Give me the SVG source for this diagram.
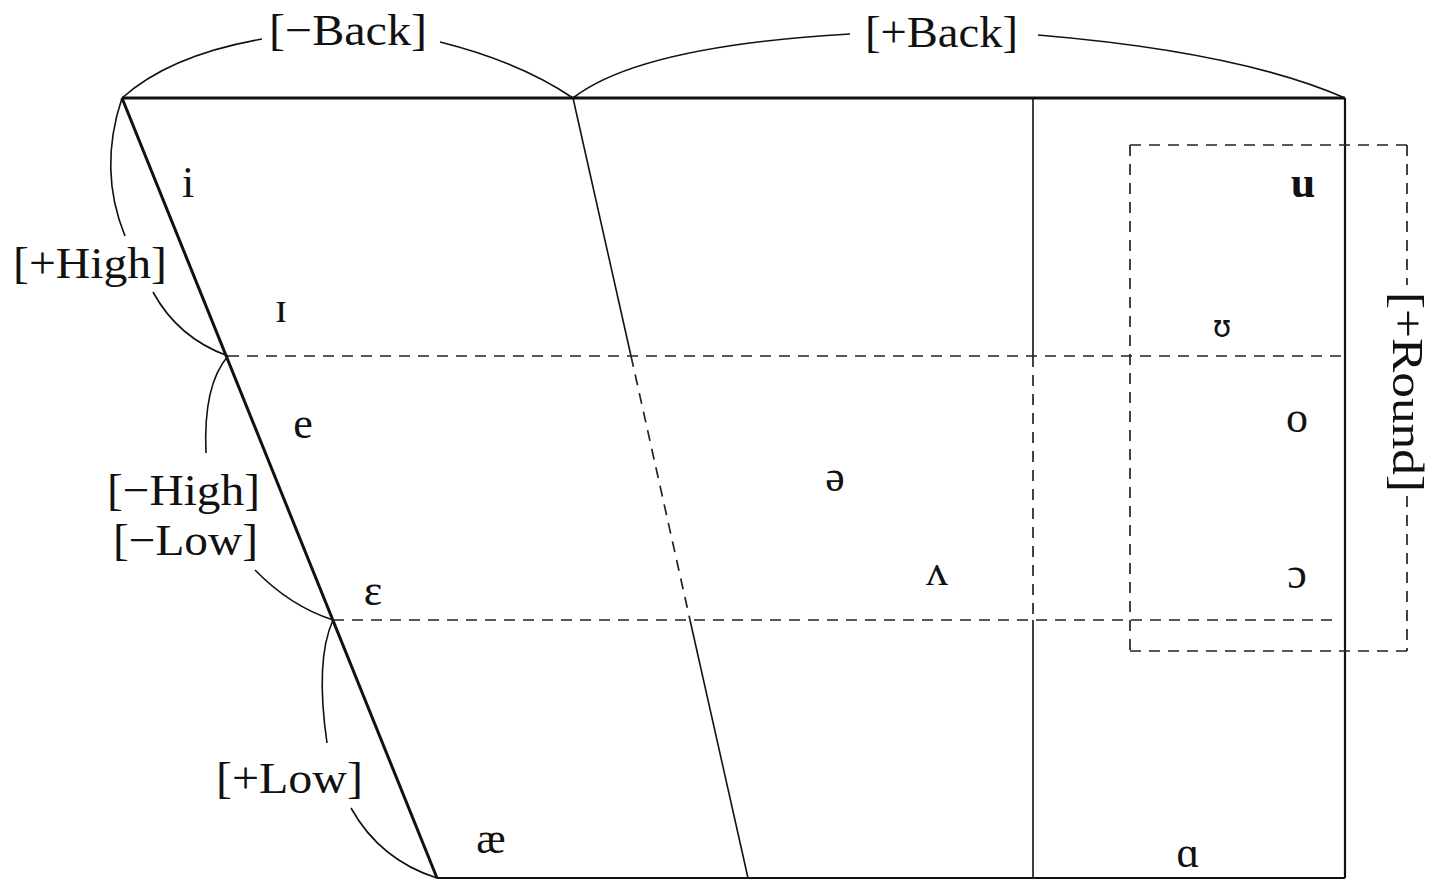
<svg xmlns="http://www.w3.org/2000/svg" width="1433" height="880" viewBox="0 0 1433 880">
<style>
.lbl{font-family:"Liberation Serif","DejaVu Serif",serif;font-size:45px;fill:#111}
.v{font-family:"Liberation Serif","DejaVu Serif",serif;font-size:44px;fill:#111;text-anchor:middle}
.thick{stroke:#111;stroke-width:3;fill:none}
.med{stroke:#111;stroke-width:2.2;fill:none}
.thin{stroke:#111;stroke-width:1.6;fill:none}
.dash{stroke:#222;stroke-width:1.7;fill:none;stroke-dasharray:11 8}
.arc{stroke:#111;stroke-width:1.6;fill:none}
</style>
<rect width="1433" height="880" fill="#fff"/>
<g id="chart">
  <line class="thick" x1="122" y1="98" x2="1345" y2="98"/>
  <line class="thick" x1="122" y1="98" x2="437" y2="878"/>
  <line class="med" x1="437" y1="878" x2="1345" y2="878"/>
  <line class="med" x1="1345" y1="98" x2="1345" y2="878"/>
  <line class="thin" x1="573" y1="98" x2="631" y2="356"/>
  <line class="dash" x1="631" y1="356" x2="690" y2="620"/>
  <line class="thin" x1="690" y1="620" x2="748" y2="878"/>
  <line class="thin" x1="1033" y1="98" x2="1033" y2="356"/>
  <line class="dash" x1="1033" y1="356" x2="1033" y2="620"/>
  <line class="thin" x1="1033" y1="620" x2="1033" y2="878"/>
  <line class="dash" x1="228" y1="356" x2="1345" y2="356"/>
  <line class="dash" x1="333" y1="620" x2="1338" y2="620"/>
</g>
<g id="round-box">
  <line class="dash" x1="1130" y1="145" x2="1407" y2="145"/>
  <line class="dash" x1="1130" y1="145" x2="1130" y2="651"/>
  <line class="dash" x1="1130" y1="651" x2="1407" y2="651"/>
  <line class="dash" x1="1407" y1="145" x2="1407" y2="285"/>
  <line class="dash" x1="1407" y1="496" x2="1407" y2="651"/>
  <text class="lbl" transform="translate(1393,392) rotate(90)" text-anchor="middle" textLength="200" lengthAdjust="spacingAndGlyphs">[+Round]</text>
</g>
<g id="connectors">
  <path class="arc" d="M122,98 Q170,55 262,39"/>
  <path class="arc" d="M440,42 Q520,62 573,98"/>
  <path class="arc" d="M573,98 Q640,46 850,34"/>
  <path class="arc" d="M1038,35 Q1240,52 1345,98"/>
  <path class="arc" d="M122,98 Q98,170 125,236"/>
  <path class="arc" d="M153,292 Q178,338 228,356"/>
  <path class="arc" d="M206,453 Q203,385 228,356"/>
  <path class="arc" d="M255,570 Q290,606 333,620"/>
  <path class="arc" d="M327,743 Q315,660 333,620"/>
  <path class="arc" d="M351,808 Q380,860 437,878"/>
</g>
<g id="feature-labels">
  <text class="lbl" x="269" y="45" textLength="158" lengthAdjust="spacingAndGlyphs">[−Back]</text>
  <text class="lbl" x="865" y="47" textLength="153" lengthAdjust="spacingAndGlyphs">[+Back]</text>
  <text class="lbl" x="13" y="278" textLength="154" lengthAdjust="spacingAndGlyphs">[+High]</text>
  <text class="lbl" x="107" y="505" textLength="153" lengthAdjust="spacingAndGlyphs">[−High]</text>
  <text class="lbl" x="113" y="555" textLength="145" lengthAdjust="spacingAndGlyphs">[−Low]</text>
  <text class="lbl" x="216" y="793" textLength="147" lengthAdjust="spacingAndGlyphs">[+Low]</text>
</g>
<g id="vowels">
  <text class="v" x="188" y="197">i</text>
  <text class="v" x="281" y="322">ɪ</text>
  <text class="v" x="303" y="438">e</text>
  <text class="v" x="373" y="605">ε</text>
  <text class="v" x="491" y="853">æ</text>
  <text class="v" x="835" y="491">ə</text>
  <text class="v" x="937" y="585">ʌ</text>
  <text class="v" x="1303" y="197" font-weight="bold">u</text>
  <text class="v" x="1222" y="337" style="font-family:'DejaVu Sans',sans-serif;font-size:30px">ʊ</text>
  <text class="v" x="1297" y="432">o</text>
  <text class="v" x="1297" y="588">ɔ</text>
  <text class="v" x="1188" y="867">ɑ</text>
</g>
</svg>
